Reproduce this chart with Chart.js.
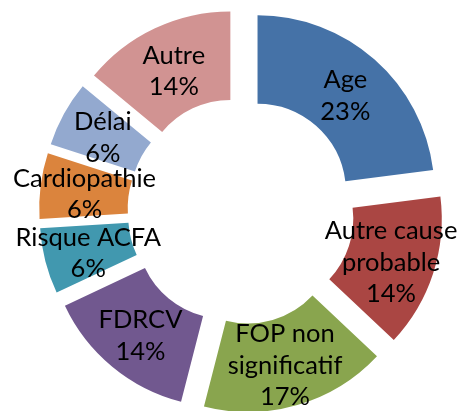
<!DOCTYPE html>
<html>
<head>
<meta charset="utf-8">
<script src="https://cdn.jsdelivr.net/npm/chart.js@4/dist/chart.umd.min.js"></script>
<style>
  html, body { margin: 0; padding: 0; background: #fff; }
  canvas { display: block; }
</style>
</head>
<body>
<canvas id="donut" width="459" height="411"></canvas>
<script>
// data
const categories = [
  ["Age"],
  ["Autre cause", "probable"],
  ["FOP non", "significatif"],
  ["FDRCV"],
  ["Risque ACFA"],
  ["Cardiopathie"],
  ["Délai"],
  ["Autre"]
];
const values = [23, 14, 17, 14, 6, 6, 6, 14];

const colors = ["#4572A7", "#AA4643", "#89A54E", "#71588F", "#4198AF", "#DB843D", "#93A9CF", "#D19392"];
const explode = 25;          // px each slice is pulled out
const labelFont = "25.5px Lato";
const lineHeight = 31.5;

// pull every slice out along its middle angle (Excel style explosion)
const explodePlugin = {
  id: "explode",
  afterDatasetUpdate(chart, args) {
    args.meta.data.forEach(arc => {
      const mid = (arc.startAngle + arc.endAngle) / 2;
      arc.x += Math.cos(mid) * explode;
      arc.y += Math.sin(mid) * explode;
    });
  }
};

// category + percent written in the middle of each slice
const sliceLabels = {
  id: "sliceLabels",
  afterDatasetsDraw(chart) {
    const ctx = chart.ctx;
    const meta = chart.getDatasetMeta(0);
    ctx.save();
    ctx.font = labelFont;
    ctx.fillStyle = "#000";
    ctx.textAlign = "center";
    ctx.textBaseline = "middle";
    meta.data.forEach((arc, i) => {
      const mid = (arc.startAngle + arc.endAngle) / 2;
      const r = (arc.innerRadius + arc.outerRadius) / 2;
      const cx = arc.x + Math.cos(mid) * r;
      const cy = arc.y + Math.sin(mid) * r + 3;
      const lines = categories[i].concat([values[i] + "%"]);
      const top = cy - (lines.length - 1) * lineHeight / 2;
      lines.forEach((t, k) => ctx.fillText(t, cx, top + k * lineHeight));
    });
    ctx.restore();
  }
};

new Chart(document.getElementById("donut"), {
  type: "doughnut",
  data: {
    labels: categories,
    datasets: [{
      data: values,
      backgroundColor: colors,
      borderWidth: 0,
      clip: false
    }]
  },
  options: {
    responsive: false,
    animation: false,
    radius: 177,
    cutout: "50%",
    layout: { padding: { left: 23, top: 11 } },
    plugins: {
      legend: { display: false },
      tooltip: { enabled: false }
    }
  },
  plugins: [explodePlugin, sliceLabels]
});
</script>
</body>
</html>
